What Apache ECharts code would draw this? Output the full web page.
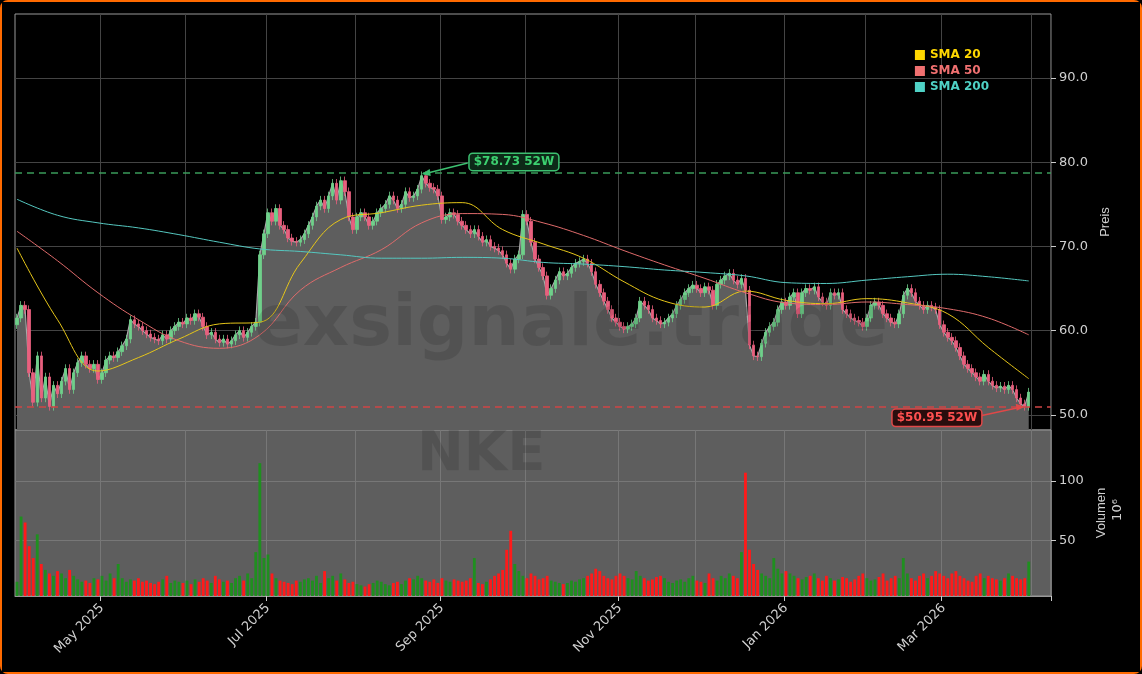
<!DOCTYPE html>
<html><head><meta charset="utf-8">
<script src="https://cdn.jsdelivr.net/npm/echarts@6/dist/echarts.min.js"></script>
<style>html,body{margin:0;background:#000;}#wrap{position:absolute;left:0;top:0;width:1138px;height:670px;border:2px solid #ff6a00;border-radius:8px;background:#000;}#c{width:1138px;height:670px;}</style>
</head><body><div id="wrap"><div id="c"></div></div>
<script>
const closes = [
61.5,63.0,62.5,55.0,51.5,57.0,52.0,54.5,51.0,53.5,
52.5,54.0,55.5,53.0,55.0,56.2,57.0,56.0,55.5,56.0,
54.2,55.0,56.5,57.0,56.8,57.5,58.2,59.0,61.3,60.8,
60.5,60.0,59.6,59.2,59.0,58.8,59.5,59.0,60.0,60.5,
61.0,60.8,61.5,61.2,62.0,61.6,60.5,59.5,59.8,59.0,
58.6,59.0,58.4,58.8,59.5,60.0,59.2,59.8,60.5,61.0,
69.0,71.5,74.0,73.0,74.5,72.5,72.0,71.0,70.6,70.5,
70.8,71.5,72.5,73.5,74.8,75.5,74.5,76.0,77.5,75.5,
77.8,76.5,73.5,72.0,73.5,74.0,73.5,72.5,73.0,74.0,
74.5,75.0,76.0,75.5,74.5,75.0,76.5,75.8,76.0,76.8,
78.4,77.5,77.0,76.8,76.0,73.2,73.5,74.0,73.8,73.0,
72.5,72.0,71.5,72.0,71.2,70.5,70.8,70.0,69.8,69.5,
69.0,68.0,67.3,68.5,69.0,73.8,73.0,70.5,68.5,67.5,
66.5,64.2,65.0,66.0,67.0,66.5,66.8,67.5,68.0,68.2,
68.5,68.0,67.0,65.5,64.5,63.5,62.5,61.5,61.0,60.5,
60.2,60.5,60.8,61.5,63.5,63.0,62.5,61.5,61.2,60.8,
61.0,61.5,62.0,63.0,63.7,64.5,65.0,65.4,65.0,64.5,
65.2,64.8,63.0,65.5,66.0,66.5,66.8,66.0,65.5,66.2,
64.8,58.3,57.0,56.9,58.5,59.8,60.5,61.0,62.5,63.4,
63.0,64.0,64.5,62.0,64.5,65.0,64.8,65.2,64.0,63.4,
63.0,64.5,64.2,64.5,62.5,62.0,61.5,61.2,61.0,60.5,
61.5,63.0,63.4,63.0,62.0,61.5,61.0,60.8,62.0,64.2,
65.0,64.5,63.5,63.0,62.5,63.0,62.8,62.5,60.7,59.8,
59.2,58.8,58.0,57.0,56.0,55.5,55.0,54.5,54.0,54.8,
54.0,53.5,53.2,53.4,53.0,53.5,53.0,52.0,51.3,51.0,
52.7];
const volumes = [
15,70,65,45,35,55,30,25,22,20,
24,22,18,25,20,17,15,16,14,18,
17,20,16,22,18,30,18,15,17,16,
18,15,16,14,13,15,17,20,14,16,
15,14,16,13,17,15,18,16,14,20,
17,15,16,14,18,20,16,22,18,40,
115,35,38,22,18,16,15,14,13,16,
15,17,18,16,20,14,24,18,20,16,
22,17,14,15,13,12,11,13,14,16,
15,13,12,14,15,13,16,18,17,20,
18,16,15,17,14,18,16,15,17,16,
15,16,18,35,14,13,15,17,20,22,
25,42,58,30,24,20,18,22,20,17,
18,20,16,15,14,13,14,16,15,17,
18,20,22,26,24,20,18,17,20,22,
20,18,17,24,20,18,16,17,19,20,
18,15,14,16,17,15,18,20,16,15,
14,22,18,16,20,18,22,20,18,40,
107,42,30,25,22,20,18,35,26,22,
24,22,20,18,17,19,20,22,18,16,
20,18,16,17,19,18,15,17,20,22,
18,16,17,19,22,16,18,20,18,35,
22,18,16,20,22,18,20,24,22,20,
18,22,24,20,18,16,15,20,22,18,
20,18,17,16,18,22,20,18,17,18,
32];
// moving averages read every 10 trading days
const sma20 = [69.8,61.3,55.2,56.8,59.0,60.8,61.0,68.0,73.2,74.0,74.9,75.2,72.0,70.3,68.6,65.8,63.5,62.8,64.7,63.6,63.2,63.8,63.3,62.0,58.0,54.3];
const sma50 = [71.8,68.3,64.5,61.3,58.8,57.9,59.5,64.8,67.5,69.6,72.8,73.9,73.8,72.8,71.3,69.5,67.8,66.2,64.5,63.3,63.1,63.4,63.1,62.6,61.5,59.5];
const sma200 = [75.6,73.7,72.8,72.2,71.4,70.5,69.7,69.4,69.0,68.6,68.6,68.7,68.6,68.1,67.9,67.6,67.2,66.9,66.5,65.7,65.6,66.0,66.4,66.7,66.4,65.9];
const high52 = 78.73, low52 = 50.95;
const monthNames = ['Jan','Feb','Mar','Apr','May','Jun','Jul','Aug','Sep','Oct','Nov','Dec'];
const holidays = ['2025-04-18','2025-05-26','2025-06-19','2025-07-04','2025-09-01','2025-11-27','2025-12-25','2026-01-01','2026-01-19','2026-02-16'];
const padDays = 5;

const dates = [];
let d = new Date(Date.UTC(2025,3,1));
while (dates.length < closes.length + padDays) {
  const s = d.toISOString().slice(0,10);
  if (d.getUTCDay() % 6 !== 0 && !holidays.includes(s)) dates.push(s);
  d.setUTCDate(d.getUTCDate()+1);
}
const isMonthStart = i => i > 0 && dates[i].slice(5,7) !== dates[i-1].slice(5,7);
const isLabel = i => isMonthStart(i) && (+dates[i].slice(5,7)) % 2 === 1;

const ohlc = closes.map((c,i)=>{
  const o = i===0 ? c-0.8 : closes[i-1];
  return [o, c, Math.min(o,c)-0.5, Math.max(o,c)+0.5];
});
const volData = volumes.map((v,i)=>({value:v, itemStyle:{color: ohlc[i][1]>=ohlc[i][0] ? '#1f8f1f' : '#ff1a1a'}}));
const sparse = arr => closes.map((_,i)=> i%10===0 && arr[i/10]!==undefined ? arr[i/10] : null);
const hiIdx = closes.indexOf(Math.max(...closes));
const loIdx = closes.length-2;

const chart = echarts.init(document.getElementById('c'));
const axisText = {color:'#d0d0d0', fontSize:13, fontFamily:'DejaVu Sans'};
chart.setOption({
  backgroundColor:'#000',
  animation:false,
  legend:{right:146, top:42, orient:'vertical', itemWidth:10, itemHeight:10, itemGap:4, icon:'rect',
    data:[{name:'SMA 20', textStyle:{color:'#ffd700'}},{name:'SMA 50', textStyle:{color:'#f07070'}},{name:'SMA 200', textStyle:{color:'#4fd1c5'}}],
    textStyle:{fontWeight:'bold', fontSize:12, fontFamily:'DejaVu Sans'}},
  grid:[
    {left:13, right:89, top:12, height:416, show:true, borderColor:'#999', backgroundColor:'#000'},
    {left:13, right:89, top:428, height:166, show:true, borderColor:'#999', backgroundColor:'#5e5e5e'}
  ],
  xAxis:[
    {type:'category', data:dates, gridIndex:0, boundaryGap:true, axisLine:{show:false}, axisTick:{show:false}, axisLabel:{show:false},
     splitLine:{show:true, interval:(i)=>isMonthStart(i), lineStyle:{color:'#444'}}},
    {type:'category', data:dates, gridIndex:1, boundaryGap:true, axisLine:{lineStyle:{color:'#999'}},
     axisTick:{show:true, interval:(i)=>isLabel(i), lineStyle:{color:'#ccc'}},
     axisLabel:Object.assign({interval:(i)=>isLabel(i), rotate:45, margin:10, padding:[0,0,0,0], formatter:(v)=>monthNames[+v.slice(5,7)-1]+' '+v.slice(0,4)}, axisText),
     splitLine:{show:true, interval:(i)=>isMonthStart(i), lineStyle:{color:'#777'}}}
  ],
  yAxis:[
    {type:'value', gridIndex:0, position:'right', min:48.2, max:97.6, name:'Preis', nameLocation:'middle', nameGap:40, nameRotate:90,
     nameTextStyle:{color:'#d0d0d0', fontSize:13},
     axisLine:{show:false}, axisTick:{show:true, customValues:[50,60,70,80,90], lineStyle:{color:'#ccc'}},
     axisLabel:Object.assign({customValues:[50,60,70,80,90], formatter:v=>v.toFixed(1)}, axisText),
     splitLine:{show:true, lineStyle:{color:'#444'}}},
    {type:'value', gridIndex:1, position:'right', min:3, max:143, name:'Volumen', nameLocation:'middle', nameGap:38, nameRotate:90,
     nameTextStyle:{color:'#d0d0d0', fontSize:13},
     axisLine:{show:false}, axisTick:{show:true, customValues:[50,100], lineStyle:{color:'#ccc'}},
     axisLabel:Object.assign({customValues:[50,100]}, axisText),
     splitLine:{show:true, lineStyle:{color:'#777'}}}
  ],
  series:[
    {type:'line', name:'Close', data:closes, xAxisIndex:0, yAxisIndex:0, symbol:'none', z:1,
     lineStyle:{color:'#a8a8a8', width:1.2}, areaStyle:{color:'#5e5e5e', opacity:1, origin:'start'},
     markLine:{silent:true, symbol:'none', label:{show:false},
       data:[{yAxis:high52, lineStyle:{color:'#3a9a5a', type:[7,5], width:1.5}},{yAxis:low52, lineStyle:{color:'#d04545', type:[7,5], width:1.5}}]}},
    {type:'candlestick', name:'NKE', data:ohlc, xAxisIndex:0, yAxisIndex:0, barWidth:3, z:3,
     itemStyle:{color:'#6fd08a', color0:'#e8607e', borderColor:'#6fd08a', borderColor0:'#e8607e', borderWidth:0.8}},
    {type:'line', name:'SMA 20', data:sparse(sma20), connectNulls:true, smooth:0.4, symbol:'none', z:4, color:'#ffd700', lineStyle:{width:1, color:'#e6c619'}},
    {type:'line', name:'SMA 50', data:sparse(sma50), connectNulls:true, smooth:0.4, symbol:'none', z:4, color:'#f07070', lineStyle:{width:1, color:'#e06b6b'}},
    {type:'line', name:'SMA 200', data:sparse(sma200), connectNulls:true, smooth:0.4, symbol:'none', z:4, color:'#4fd1c5', lineStyle:{width:1, color:'#55c8c0'}},
    {type:'bar', name:'Volume', data:volData, xAxisIndex:1, yAxisIndex:1, barWidth:'70%', z:2}
  ]
});

const hp = chart.convertToPixel({xAxisIndex:0, yAxisIndex:0}, [hiIdx, high52]);
const lp = chart.convertToPixel({xAxisIndex:0, yAxisIndex:0}, [loIdx, low52]);
chart.setOption({graphic:[
  {type:'text', left:'center', top:288, z:50, silent:true, style:{text:'exsignale.trade', font:'bold 72px DejaVu Sans', fill:'rgba(0,0,0,0.12)'}},
  {type:'text', left:415, top:425, z:50, silent:true, style:{text:'NKE', font:'bold 56px DejaVu Sans', fill:'rgba(0,0,0,0.12)'}},
  {type:'text', x:1116, y:508, rotation:Math.PI/2, style:{text:'10⁶', font:'13px DejaVu Sans', fill:'#d0d0d0', align:'center', verticalAlign:'middle'}},
  {type:'line', z:60, shape:{x1:hp[0]+46, y1:hp[1]-10, x2:hp[0]+2, y2:hp[1]+1}, style:{stroke:'#3cc070', lineWidth:1.5}},
  {type:'polygon', z:60, shape:{points:[[hp[0],hp[1]+1],[hp[0]+8,hp[1]-4],[hp[0]+9,hp[1]+3]]}, style:{fill:'#3cc070'}},
  {type:'text', z:61, x:hp[0]+48, y:hp[1]-11, style:{text:'$78.73 52W', font:'bold 12px DejaVu Sans', fill:'#3cd070', backgroundColor:'#0d2a18', borderColor:'#3cc070', borderWidth:1.5, borderRadius:3, padding:[2,4], verticalAlign:'middle'}},
  {type:'line', z:60, shape:{x1:lp[0]-44, y1:lp[1]+9, x2:lp[0]-2, y2:lp[1]}, style:{stroke:'#e04848', lineWidth:1.5}},
  {type:'polygon', z:60, shape:{points:[[lp[0],lp[1]],[lp[0]-9,lp[1]-3],[lp[0]-8,lp[1]+4]]}, style:{fill:'#e04848'}},
  {type:'text', z:61, x:lp[0]-132, y:lp[1]+11, style:{text:'$50.95 52W', font:'bold 12px DejaVu Sans', fill:'#ff5050', backgroundColor:'#2a0d0d', borderColor:'#e04848', borderWidth:1.5, borderRadius:3, padding:[2,4], verticalAlign:'middle'}}
]});
</script></body></html>
